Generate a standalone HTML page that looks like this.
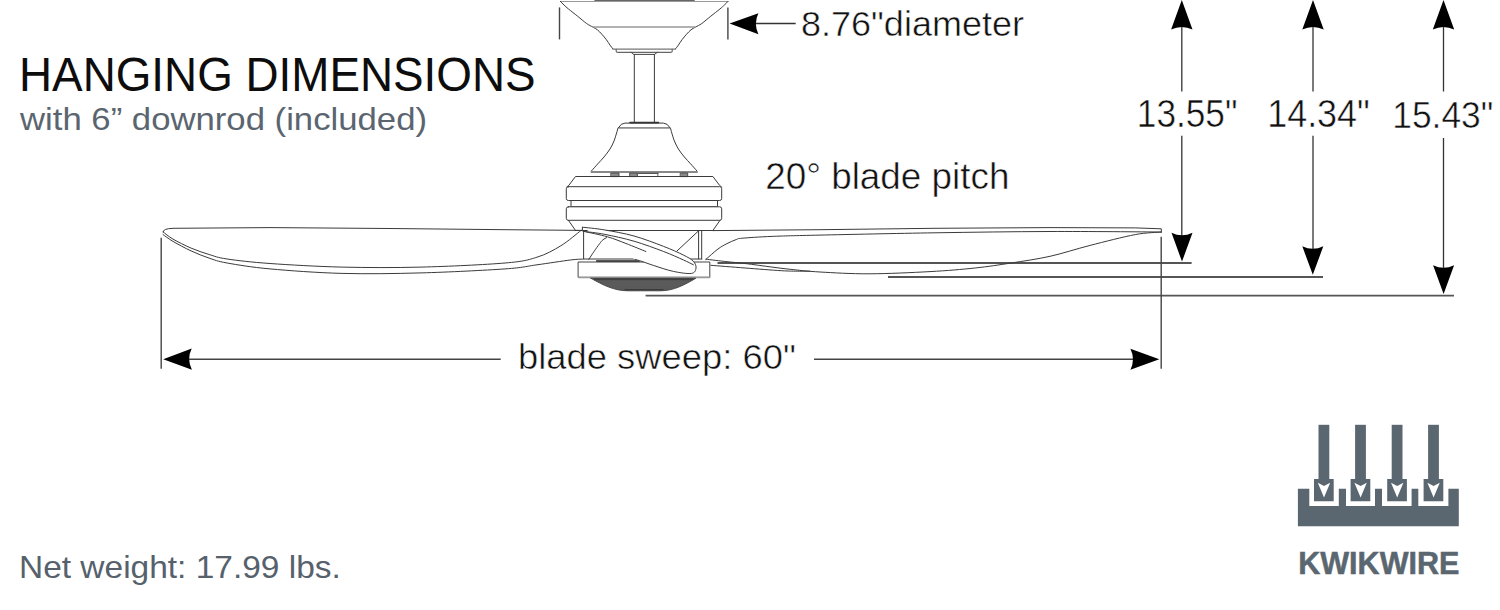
<!DOCTYPE html>
<html>
<head>
<meta charset="utf-8">
<style>
html,body{margin:0;padding:0;background:#fff;width:1500px;height:610px;overflow:hidden;}
svg{display:block;}
text{font-family:"Liberation Sans", sans-serif;}
</style>
</head>
<body>
<svg width="1500" height="610" viewBox="0 0 1500 610">
<rect x="0" y="0" width="1500" height="610" fill="#fff"/>
<text x="19.00" y="90.60" font-size="47.82" font-weight="normal" fill="#0d0d0d" textLength="516.60" lengthAdjust="spacingAndGlyphs">HANGING DIMENSIONS</text>
<text x="20.00" y="129.50" font-size="31.95" font-weight="normal" fill="#5a6570" textLength="407.00" lengthAdjust="spacingAndGlyphs">with 6” downrod (included)</text>
<text x="19.00" y="578.30" font-size="30.99" font-weight="normal" fill="#56616c" textLength="321.80" lengthAdjust="spacingAndGlyphs">Net weight: 17.99 lbs.</text>
<text x="801.00" y="35.80" font-size="35.85" font-weight="normal" fill="#111" textLength="223.00" lengthAdjust="spacingAndGlyphs" stroke="#fff" stroke-width="0.5">8.76"diameter</text>
<text x="765.20" y="188.80" font-size="36.19" font-weight="normal" fill="#111" textLength="244.20" lengthAdjust="spacingAndGlyphs" stroke="#fff" stroke-width="0.5">20° blade pitch</text>
<text x="518.00" y="369.30" font-size="34.51" font-weight="normal" fill="#111" textLength="277.80" lengthAdjust="spacingAndGlyphs" stroke="#fff" stroke-width="0.5">blade sweep: 60"</text>
<text x="1136.80" y="126.50" font-size="38.27" font-weight="normal" fill="#111" textLength="100.60" lengthAdjust="spacingAndGlyphs" stroke="#fff" stroke-width="0.5">13.55"</text>
<text x="1267.20" y="126.50" font-size="38.27" font-weight="normal" fill="#111" textLength="102.60" lengthAdjust="spacingAndGlyphs" stroke="#fff" stroke-width="0.5">14.34"</text>
<text x="1392.20" y="128.10" font-size="36.60" font-weight="normal" fill="#111" textLength="101.20" lengthAdjust="spacingAndGlyphs" stroke="#fff" stroke-width="0.5">15.43"</text>
<text x="1298.20" y="574.00" font-size="30.64" font-weight="bold" fill="#5a6670" textLength="161.20" lengthAdjust="spacingAndGlyphs" stroke="#5a6670" stroke-width="0.5">KWIKWIRE</text>

<g stroke="#333" stroke-width="1.3" fill="none">
  <line x1="1181.8" y1="18" x2="1181.8" y2="91.5"/>
  <line x1="1181.8" y1="135.7" x2="1181.8" y2="245"/>
  <line x1="1313" y1="18" x2="1313" y2="91.5"/>
  <line x1="1313" y1="135.7" x2="1313" y2="258"/>
  <line x1="1443.5" y1="18" x2="1443.5" y2="91.5"/>
  <line x1="1443.5" y1="138" x2="1443.5" y2="278"/>
</g>
<g stroke="#555" stroke-width="1.8" fill="none">
  <line x1="717.5" y1="263" x2="1191.6" y2="263"/>
  <line x1="888" y1="277" x2="1323" y2="277"/>
  <line x1="645.6" y1="295.7" x2="1454" y2="295.7"/>
  <line x1="188" y1="359.2" x2="500.7" y2="359.2" stroke="#444" stroke-width="1.4"/>
  <line x1="814" y1="359.2" x2="1135" y2="359.2" stroke="#444" stroke-width="1.4"/>
  <line x1="755" y1="23.5" x2="795.7" y2="23.5" stroke="#333" stroke-width="1.3"/>
</g>
<g stroke="#444" stroke-width="1.4" fill="none">
  <line x1="161.2" y1="237.7" x2="161.2" y2="368.7"/>
  <line x1="1161.2" y1="236.7" x2="1161.2" y2="368.7"/>
  <line x1="559.5" y1="7.4" x2="559.5" y2="39.4"/>
  <line x1="727.9" y1="7.4" x2="727.9" y2="39.5"/>
</g>
<g fill="#000">
  <path d="M1181.8,0 L1192.5,29.5 Q1181.8,24.5 1171.1,29.5 Z"/>
  <path d="M1313,0 L1323.7,29.5 Q1313,24.5 1302.3,29.5 Z"/>
  <path d="M1443.5,0 L1454.2,29.5 Q1443.5,24.5 1432.8,29.5 Z"/>
  <path d="M1182,261.6 L1192.5,232.8 Q1182,237.8 1171.5,232.8 Z"/>
  <path d="M1312.8,274.8 L1323.3,246.3 Q1312.8,251.3 1302.3,246.3 Z"/>
  <path d="M1443.6,294 L1454.1,265.2 Q1443.6,270.2 1433.1,265.2 Z"/>
  <path d="M163.2,359.2 L191.7,348.6 Q186.5,359.2 191.9,369.8 Z"/>
  <path d="M1159.3,359.2 L1130.4,348.7 Q1135.6,359.2 1130.4,369.8 Z"/>
  <path d="M729.6,23.6 L758.4,13.2 Q753.4,23.6 758.4,34.2 Z"/>
</g>
<g id="fan" stroke="#3a3a3a" stroke-width="1" fill="none" stroke-linejoin="round" stroke-linecap="round">
<rect x="594.4" y="0" width="100.3" height="1.8" fill="#666" stroke="none"/>
<line x1="560.4" y1="1.5" x2="728" y2="1.5" stroke="#999"/>
<path d="M560.40,1.40 C561.00,2.00 562.65,3.73 564.00,5.00 C565.35,6.27 566.23,7.13 568.50,9.00 C570.77,10.87 574.58,13.78 577.60,16.20 C580.62,18.62 584.05,21.68 586.60,23.50 C589.15,25.32 591.10,26.05 592.90,27.10 C594.70,28.15 595.90,28.60 597.40,29.80 C598.90,31.00 600.40,32.65 601.90,34.30 C603.40,35.95 605.05,37.90 606.40,39.70 C607.75,41.50 608.93,43.60 610.00,45.10 C611.07,46.60 612.33,48.10 612.80,48.70" />
<path d="M728.00,1.40 C727.40,2.00 725.75,3.73 724.40,5.00 C723.05,6.27 722.17,7.13 719.90,9.00 C717.63,10.87 713.82,13.78 710.80,16.20 C707.78,18.62 704.35,21.68 701.80,23.50 C699.25,25.32 697.30,26.05 695.50,27.10 C693.70,28.15 692.50,28.60 691.00,29.80 C689.50,31.00 688.00,32.65 686.50,34.30 C685.00,35.95 683.35,37.90 682.00,39.70 C680.65,41.50 679.47,43.60 678.40,45.10 C677.33,46.60 676.07,48.10 675.60,48.70" />
<line x1="613" y1="49.2" x2="675.4" y2="49.2" stroke="#777" stroke-width="1.3"/>
<line x1="593.4" y1="27" x2="695" y2="27" stroke="#999" stroke-width="1.6"/>
<path d="M616.2,49.3 L616.2,51.3 Q616.2,52.4 618,52.4 L670.4,52.4 Q672.2,52.4 672.2,51.3 L672.2,49.3" stroke="#666" stroke-width="1.2"/>
<path d="M631.1,52.3 L633.8,54.4 L654.5,54.4 L657.3,52.3" stroke="#444"/>
<line x1="634.3" y1="54.4" x2="634.3" y2="122.5"/>
<line x1="654.4" y1="54.4" x2="654.4" y2="122.5"/>
<line x1="630" y1="122.6" x2="658.5" y2="122.6" stroke="#333" stroke-width="1.6"/>
<path d="M618.5,127.6 Q621,123.1 625,123.1 L663.4,123.1 Q667.4,123.1 669.9,127.6 Z"/>
<path d="M617.90,128.20 C617.68,129.00 617.25,130.87 616.60,133.00 C615.95,135.13 615.10,138.33 614.00,141.00 C612.90,143.67 611.67,146.33 610.00,149.00 C608.33,151.67 606.03,154.53 604.00,157.00 C601.97,159.47 599.88,161.48 597.80,163.80 C595.72,166.12 592.55,169.72 591.50,170.90" />
<path d="M670.50,128.20 C670.72,129.00 671.15,130.87 671.80,133.00 C672.45,135.13 673.30,138.33 674.40,141.00 C675.50,143.67 676.73,146.33 678.40,149.00 C680.07,151.67 682.37,154.53 684.40,157.00 C686.43,159.47 688.52,161.48 690.60,163.80 C692.68,166.12 695.85,169.72 696.90,170.90" />
<line x1="591.5" y1="171.9" x2="697" y2="171.9" stroke="#888" stroke-width="2"/>
<g fill="#8a8a8a" stroke="#444" stroke-width="0.9">
    <rect x="611.2" y="173" width="7.8" height="3.6"/>
    <rect x="630" y="173" width="7.4" height="3.6"/>
    <rect x="680.6" y="173" width="7.1" height="3.6"/>
  </g>
<line x1="637.4" y1="173.4" x2="657.8" y2="173.4" stroke="#555" stroke-width="1.4"/>
<line x1="657.8" y1="173" x2="657.8" y2="176.6" stroke="#555" stroke-width="0.9"/>
<path d="M566.8,187 Q567.6,186 568.8,185.4 L575.5,176.5 L712.9,176.5 L719.6,185.4 Q720.8,186 721.6,187"/>
<rect x="566.3" y="186.7" width="155.4" height="13.8" rx="2" fill="#fff"/>
<rect x="571.4" y="200.5" width="146.1" height="6.3" fill="#fff"/>
<rect x="566.3" y="206.8" width="155.4" height="13.5" rx="2" fill="#fff"/>
<path d="M568.4,220.3 L575.5,230.4 M720,220.3 L713,230.4"/>
<path d="M163.1,232 Q162.8,228.6 173,228.3 L270,227.6 L390,228.5 L505,229.7 L582,230.4"/>
<path d="M163.10,231.90 C164.75,233.10 168.33,236.40 173.00,239.10 C177.67,241.80 185.08,245.53 191.10,248.10 C197.12,250.67 203.10,252.68 209.10,254.50 C215.10,256.32 216.95,257.50 227.10,259.00 C237.25,260.50 250.83,262.15 270.00,263.50 C289.17,264.85 316.92,266.50 342.10,267.10 C367.28,267.70 393.95,267.78 421.10,267.10 C448.25,266.42 485.68,264.65 505.00,263.00 C524.32,261.35 527.70,260.07 537.00,257.20 C546.30,254.33 553.50,250.23 560.80,245.80 C568.10,241.37 577.47,233.13 580.80,230.60" />
<path d="M163.10,234.60 C164.75,235.73 168.33,238.68 173.00,241.40 C177.67,244.12 185.08,248.12 191.10,250.90 C197.12,253.68 203.10,256.08 209.10,258.10 C215.10,260.12 216.95,261.20 227.10,263.00 C237.25,264.80 250.83,267.17 270.00,268.90 C289.17,270.63 316.92,272.73 342.10,273.40 C367.28,274.07 393.95,273.65 421.10,272.90 C448.25,272.15 485.68,270.25 505.00,268.90 C524.32,267.55 526.12,266.28 537.00,264.80 C547.88,263.32 562.68,260.95 570.30,260.00 C577.92,259.05 580.63,259.25 582.70,259.10" />
<line x1="575.5" y1="230.5" x2="713.4" y2="230.5"/>
<line x1="583.6" y1="230.5" x2="583.6" y2="258.9"/>
<line x1="698.6" y1="230.5" x2="698.6" y2="258.9"/>
<line x1="701.7" y1="230.5" x2="701.7" y2="258.9"/>
<line x1="583.6" y1="259" x2="701.7" y2="259"/>
<line x1="677" y1="251" x2="698.4" y2="231"/>
<rect x="578.5" y="262" width="131.3" height="15.4" fill="#fff" stroke="#444"/>
<line x1="579" y1="277.4" x2="709.5" y2="277.4" stroke="#999" stroke-width="1.6"/>
<line x1="596.6" y1="261" x2="639.2" y2="261" stroke="#222" stroke-width="1.5"/>
<path d="M591,278.3 L695.8,278.3 C684,285 674,290.8 660,290.8 L628,290.8 C614,290.8 603,285 591,278.3 Z" fill="#5a5a5a" stroke="#404040" stroke-width="0.9"/>
<rect x="594" y="278.3" width="99" height="1.8" fill="#3f3f3f" stroke="none"/>
<line x1="604" y1="284.2" x2="683" y2="284.2" stroke="#5e5e5e" stroke-width="0.8"/>
<path d="M625,289.6 L663,289.6" stroke="#3a3a3a" stroke-width="1.4"/>
<path d="M582.40,227.20 C586.08,227.65 595.90,228.43 604.50,229.90 C613.10,231.37 624.15,233.25 634.00,236.00 C643.85,238.75 655.38,243.23 663.60,246.40 C671.82,249.57 678.35,252.53 683.30,255.00 C688.25,257.47 691.18,259.03 693.30,261.20 C695.42,263.37 696.30,265.97 696.00,268.00 C695.70,270.03 695.27,272.83 691.50,273.40 C687.73,273.97 679.70,272.72 673.40,271.40 C667.10,270.08 658.95,267.17 653.70,265.50 C648.45,263.83 645.02,262.42 641.90,261.40 C638.78,260.38 636.15,259.73 635.00,259.40" fill="#fff"/>
<line x1="582.4" y1="227.4" x2="582.4" y2="231"/>
<path d="M583.90,231.40 C587.33,231.88 596.15,232.67 604.50,234.30 C612.85,235.93 624.15,238.33 634.00,241.20 C643.85,244.07 655.38,248.38 663.60,251.50 C671.82,254.62 678.33,257.68 683.30,259.90 C688.27,262.12 691.72,263.98 693.40,264.80" />
<path d="M583.90,231.40 C587.83,232.30 600.48,234.78 607.50,236.80 C614.52,238.82 619.60,241.05 626.00,243.50 C632.40,245.95 642.58,250.17 645.90,251.50" />
<path d="M588.80,259.40 C589.67,258.08 592.20,254.12 594.00,251.50 C595.80,248.88 598.10,245.67 599.60,243.70 C601.10,241.73 601.85,240.70 603.00,239.70 C604.15,238.70 605.92,238.03 606.50,237.70" />
<path d="M713.1,230.6 L820,229.7 L935,228.3 L1050,227.6 L1135.2,227.9 L1161.3,228.8 L1161.3,232.1"/>
<path d="M705.90,259.40 C707.92,257.67 714.48,251.63 718.00,249.00 C721.52,246.37 723.98,245.17 727.00,243.60 C730.02,242.03 733.53,240.50 736.10,239.60 C738.67,238.70 736.40,238.73 742.40,238.20 C748.40,237.67 759.17,236.92 772.10,236.40 C785.03,235.88 792.85,235.70 820.00,235.10 C847.15,234.50 896.67,233.40 935.00,232.80 C973.33,232.20 1012.28,231.63 1050.00,231.50 C1087.72,231.37 1142.75,231.92 1161.30,232.00" />
<path d="M1161.30,232.10 C1156.95,232.52 1147.07,232.38 1135.20,234.60 C1123.33,236.82 1104.30,241.78 1090.10,245.40 C1075.90,249.02 1063.15,253.37 1050.00,256.30 C1036.85,259.23 1023.68,261.05 1011.20,263.00 C998.72,264.95 988.63,266.57 975.10,268.00 C961.57,269.43 947.67,270.63 930.00,271.60 C912.33,272.57 887.43,273.73 869.10,273.80 C850.77,273.87 833.15,272.75 820.00,272.00 C806.85,271.25 798.18,270.12 790.20,269.30 C782.22,268.48 779.62,268.07 772.10,267.10 C764.58,266.13 752.62,264.40 745.10,263.50 C737.58,262.60 733.53,262.42 727.00,261.70 C720.47,260.98 709.42,259.62 705.90,259.20" />
<path d="M710.80,265.30 C716.52,265.75 733.37,267.10 745.10,268.00 C756.83,268.90 772.18,270.17 781.20,270.70 C790.22,271.23 794.40,271.12 799.20,271.20 C804.00,271.28 808.20,271.20 810.00,271.20" />
</g>
<g id="logo" fill="#5a6670">
  <path d="M1297.9,488.8 L1309.3,488.8 L1309.3,505.9 L1338.8,505.9 L1338.8,488.8 L1346,488.8 L1346,505.9 L1375,505.9 L1375,488.8 L1382,488.8 L1382,505.9 L1411.6,505.9 L1411.6,488.8 L1418.3,488.8 L1418.3,505.9 L1448.4,505.9 L1448.4,488.8 L1458.8,488.8 L1458.8,526.2 L1297.9,526.2 Z"/>
  <g id="arr">
    <rect x="1318.5" y="424.8" width="10.8" height="55"/>
    <path d="M1314,479 L1333.7,479 L1333.7,501.2 L1314,501.2 Z M1317.8,482.8 L1324,486 L1330.2,482.8 L1324,497.6 Z" fill-rule="evenodd"/>
  </g>
  <use href="#arr" x="36.6"/>
  <use href="#arr" x="73.2"/>
  <use href="#arr" x="109.6"/>
</g>
</svg>
</body>
</html>
